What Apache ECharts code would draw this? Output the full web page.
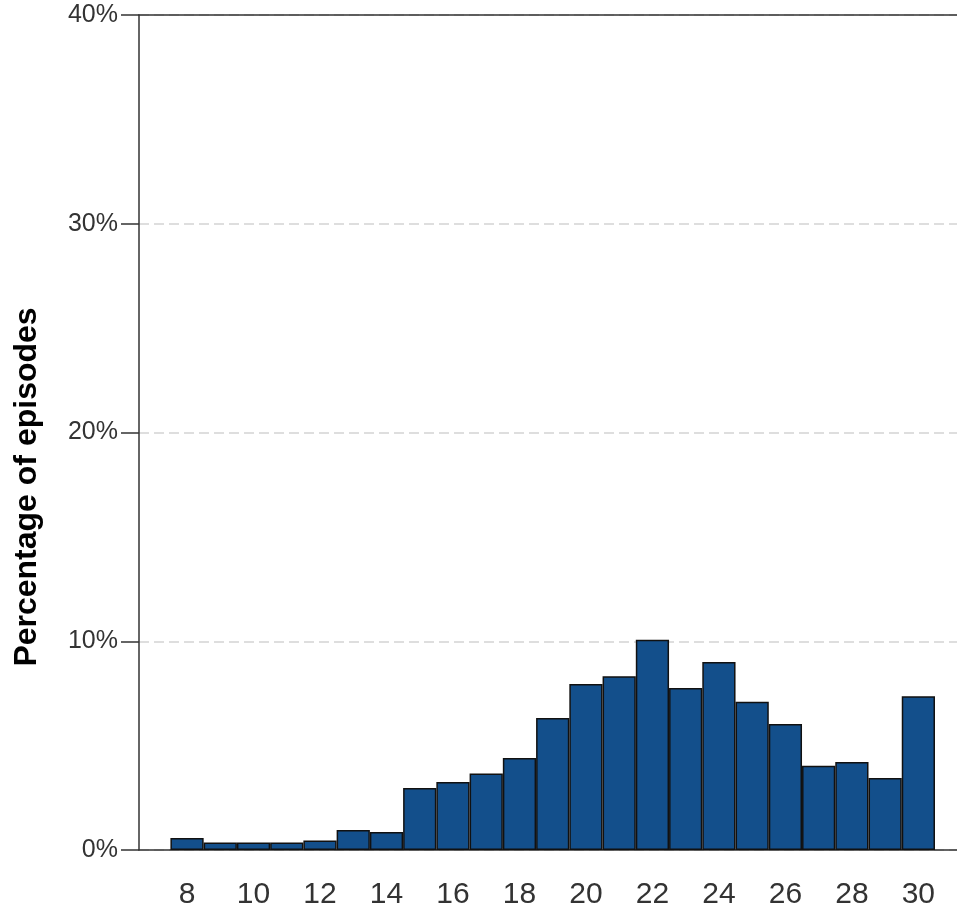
<!DOCTYPE html>
<html>
<head>
<meta charset="utf-8">
<script src="https://cdn.jsdelivr.net/npm/echarts@6/dist/echarts.min.js"></script>
<style>html,body{margin:0;padding:0;background:#fff;}#chart{width:957px;height:910px;}</style>
</head>
<body>
<div id="chart"></div>
<script>
const categories = [8,9,10,11,12,13,14,15,16,17,18,19,20,21,22,23,24,25,26,27,28,29,30];
const percentages = [0.57,0.36,0.36,0.36,0.46,0.96,0.86,2.97,3.26,3.66,4.41,6.32,7.95,8.32,10.07,7.76,9.01,7.10,6.04,4.04,4.22,3.45,7.36];
const xTickLabels = [8,10,12,14,16,18,20,22,24,26,28,30];
const yTicks = [0,10,20,30,40];
const yTitle = 'Percentage of episodes';

const X_MIN = 6.555, X_MAX = 31.162;
const GRID = {left: 139, right: 0, top: 15, bottom: 60};
const plotWidth = 957 - GRID.left - GRID.right;
const barPx = plotWidth / (X_MAX - X_MIN);

const chart = echarts.init(document.getElementById('chart'), null, {renderer: 'canvas'});
const axisColor = '#333333';
chart.setOption({
  animation: false,
  backgroundColor: '#ffffff',
  grid: GRID,
  graphic: [{
    type: 'text',
    x: 27, y: 487,
    rotation: Math.PI / 2,
    style: {
      text: yTitle, textAlign: 'center', textVerticalAlign: 'middle',
      fontFamily: 'Liberation Sans', fontSize: 32, fontWeight: 'bold', fill: '#000000'
    }
  }],
  xAxis: [{
    type: 'value', min: X_MIN, max: X_MAX, position: 'bottom',
    axisLine: {show: true, lineStyle: {color: axisColor, width: 1.5}},
    axisTick: {show: false},
    splitLine: {show: false},
    axisLabel: {
      customValues: xTickLabels, margin: 30,
      fontFamily: 'Liberation Sans', fontSize: 30, color: '#333333'
    }
  }, {
    type: 'value', min: X_MIN, max: X_MAX, position: 'top',
    axisLine: {show: true, lineStyle: {color: axisColor, width: 1.5}},
    axisTick: {show: false}, axisLabel: {show: false}, splitLine: {show: false}
  }],
  yAxis: {
    type: 'value', min: yTicks[0], max: yTicks[yTicks.length - 1], interval: 10,
    axisLine: {show: true, lineStyle: {color: axisColor, width: 1.5}},
    axisTick: {show: true, length: 18, lineStyle: {color: axisColor, width: 1.5}},
    axisLabel: {
      margin: 21, formatter: v => v + '%',
      fontFamily: 'Liberation Sans', fontSize: 25, color: '#333333'
    },
    splitLine: {show: true, lineStyle: {color: '#d4d4d4', width: 1.5, type: [10, 5]}}
  },
  series: [{
    type: 'bar',
    xAxisIndex: 0,
    data: categories.map((c, i) => [c, percentages[i]]),
    barWidth: barPx,
    itemStyle: {color: '#134f8b', borderColor: '#111111', borderWidth: 1.5}
  }]
});
</script>
</body>
</html>
